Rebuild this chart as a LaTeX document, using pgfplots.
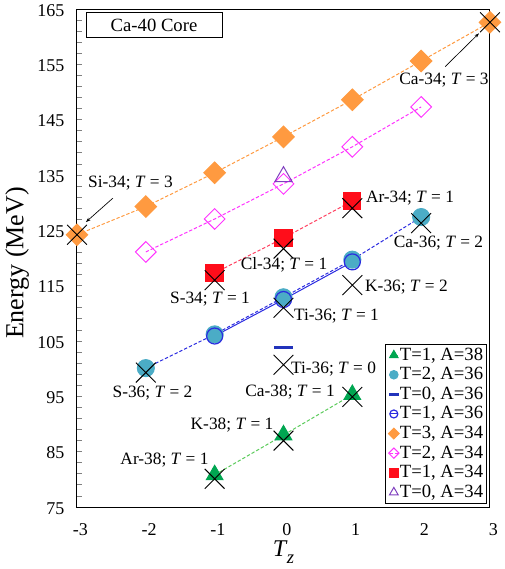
\documentclass[border=0pt]{standalone}
\usepackage{fontspec}
\setmainfont{Liberation Serif}
\usepackage{pgfplots}
\pgfplotsset{compat=1.18}
\usetikzlibrary{arrows.meta}
\definecolor{corange}{HTML}{FF9A40}
\definecolor{cmag}{HTML}{FF33FF}
\definecolor{cred}{HTML}{FF0D1A}
\definecolor{credline}{HTML}{FF4060}
\definecolor{cteal}{HTML}{4BACC6}
\definecolor{cblue}{HTML}{2B2BE0}
\definecolor{cbar}{HTML}{2233BB}
\definecolor{cgreen}{HTML}{00A651}
\definecolor{cgreenline}{HTML}{5CCB5C}
\definecolor{cpurple}{HTML}{7F3FBF}
\tikzset{mydash/.style={dash pattern=on 2.5pt off 1.5pt}}
\newcommand{\anfont}{\fontsize{13}{15}\selectfont}
\begin{document}
\begin{tikzpicture}
\path[use as bounding box] (-57.75pt,-46.5pt) rectangle (321pt,380.25pt);
\begin{axis}[
  at={(0pt,0pt)}, anchor=south west,
  scale only axis, width=309.75pt, height=373.5pt,
  xmin=-3, xmax=3, ymin=75, ymax=165,
  clip=false,
  axis line style={line width=0.75pt},
  xtick={-3,-2,-1,0,1,2,3}, xticklabels={-3,-2,-1,0,1,2,3},
  xtick style={draw=none},
  xticklabel style={font=\fontsize{13.5}{15}\selectfont, yshift=-9pt, xshift=2.5pt},
  ytick={75,85,...,165},
  minor y tick num=4,
  ytick pos=left,
  tick align=inside,
  major tick length=3.75pt, minor tick length=3.75pt,
  ytick style={line width=0.6pt},
  yticklabel style={font=\fontsize{13.5}{15}\selectfont, xshift=-6pt, yshift=-1pt},
  /pgf/number format/assume math mode=true,
  ylabel={Energy (MeV)},
  ylabel style={font=\fontsize{19.5}{22}\selectfont, at={(axis description cs:-0.145,0.49)}, anchor=center},
  xlabel={{\fontsize{18}{20}\selectfont\itshape T\kern0.5pt\raisebox{-0.3em}{\fontsize{14}{14}\selectfont z}}},
  xlabel style={at={(axis description cs:0.5,0)}, anchor=center, yshift=-33.75pt},
  legend style={at={(rel axis cs:1,0)}, anchor=south east, xshift=-2.25pt, yshift=2.25pt,
    font=\fontsize{14}{15}\selectfont, inner xsep=2pt, inner ysep=1pt, row sep=0pt,
    line width=0.75pt, nodes={inner sep=0.5pt, text height=10.5pt, text depth=3.2pt}},
  legend cell align=left,
  legend image code/.code={\draw[mark repeat=2,mark phase=2,#1] plot coordinates {(0pt,0pt) (3pt,0pt) (6pt,0pt)};},
  legend image post style={every mark/.append style={scale=0.5}},
]
% T=1, A=38
\addplot[cgreenline, mydash, line width=0.75pt, mark=triangle*, mark size=7.2pt,
  mark options={solid, fill=cgreen, draw=cgreen}] coordinates {(-1,80.8) (0,88.0) (1,95.3)};
\addlegendentry{T=1, A=38}
% T=2, A=36
\addplot[cblue, mydash, line width=0.75pt, mark=*, mark size=6.4pt,
  mark options={solid, fill=cteal, draw=cteal}] coordinates {(-2,100.1) (-1,106.2) (0,112.9) (1,119.7) (2,127.4)};
\addlegendentry{T=2, A=36}
% T=0, A=36
\addplot[cbar, only marks, mark=-, mark size=7pt, mark options={line width=2.25pt}] coordinates {(0,103.8)};
\addlegendentry{T=0, A=36}
% T=1, A=36
\addplot[cblue, solid, line width=0.75pt, mark=o, mark size=6pt,
  mark options={draw=cblue, line width=0.9pt}] coordinates {(-1,105.9) (0,112.5) (1,119.3)};
\addlegendentry{T=1, A=36}
% T=3, A=34
\addplot[corange, mydash, line width=0.75pt, mark=square*, mark size=5.7pt,
  mark options={solid, rotate=45, fill=corange, draw=corange}] coordinates {(-3,124.2) (-2,129.3) (-1,135.4) (0,141.9) (1,148.6) (2,155.6) (3,162.6)};
\addlegendentry{T=3, A=34}
% T=2, A=34
\addplot[cmag, mydash, line width=0.75pt, mark=square, mark size=5.5pt,
  mark options={solid, rotate=45, draw=cmag, line width=0.75pt}] coordinates {(-2,121.1) (-1,127.05) (0,133.4) (1,140.1) (2,147.3)};
\addlegendentry{T=2, A=34}
% T=1, A=34
\addplot[credline, mydash, line width=0.75pt, mark=square*, mark size=6.5pt,
  mark options={solid, fill=cred, draw=cred}] coordinates {(-1,117.3) (0,123.6) (1,130.3)};
\addlegendentry{T=1, A=34}
% T=0, A=34
\addplot[cpurple, only marks, mark=triangle, mark size=7.5pt, mark options={line width=0.75pt}] coordinates {(0,134.7)};
\addlegendentry{T=0, A=34}
% experimental (crosses)
\addplot[black, only marks, mark=x, mark size=10.5pt, mark options={line width=0.7pt}, forget plot]
  coordinates {(-3,124.2) (-2,99.3) (-1,80.1) (-1,116.0) (0,87.0) (0,100.7) (0,111.0) (0,121.7) (1,94.9) (1,115.1) (1,129.0) (2,126.3) (3,162.6)};

\node[draw, line width=0.75pt, minimum width=102pt, minimum height=18.75pt, inner sep=0pt,
  font=\fontsize{14}{16}\selectfont] at (axis cs:-1.881,162.02) {Ca-40 Core};

\node[font=\anfont] at (axis cs:-2.223,133.55) {Si-34; \textit{T} = 3};
\node[font=\anfont] at (axis cs:2.332,152.17) {Ca-34; \textit{T} = 3};
\node[font=\anfont] at (axis cs:1.838,130.84) {Ar-34; \textit{T} = 1};
\node[font=\anfont] at (axis cs:2.252,122.71) {Ca-36; \textit{T} = 2};
\node[font=\anfont] at (axis cs:0.007,118.73) {Cl-34; \textit{T} = 1};
\node[font=\anfont] at (axis cs:1.787,114.76) {K-36; \textit{T} = 2};
\node[font=\anfont] at (axis cs:0.770,109.51) {Ti-36; \textit{T} = 1};
\node[font=\anfont] at (axis cs:0.727,99.94) {Ti-36; \textit{T} = 0};
\node[font=\anfont] at (axis cs:0.095,95.78) {Ca-38; \textit{T} = 1};
\node[font=\anfont] at (axis cs:-0.748,89.81) {K-38; \textit{T} = 1};
\node[font=\anfont] at (axis cs:-1.729,83.49) {Ar-38; \textit{T} = 1};
\node[font=\anfont] at (axis cs:-1.903,95.60) {S-36; \textit{T} = 2};
\node[font=\anfont] at (axis cs:-1.068,112.59) {S-34; \textit{T} = 1};

\draw[line width=0.5pt, -{Stealth[length=3.5pt,width=2.5pt]}] (axis cs:-2.48,130.8) -- (axis cs:-2.87,126.5);
\draw[line width=0.5pt, -{Stealth[length=3.5pt,width=2.5pt]}] (axis cs:2.35,154.6) -- (axis cs:2.84,160.6);
\end{axis}
\end{tikzpicture}
\end{document}
